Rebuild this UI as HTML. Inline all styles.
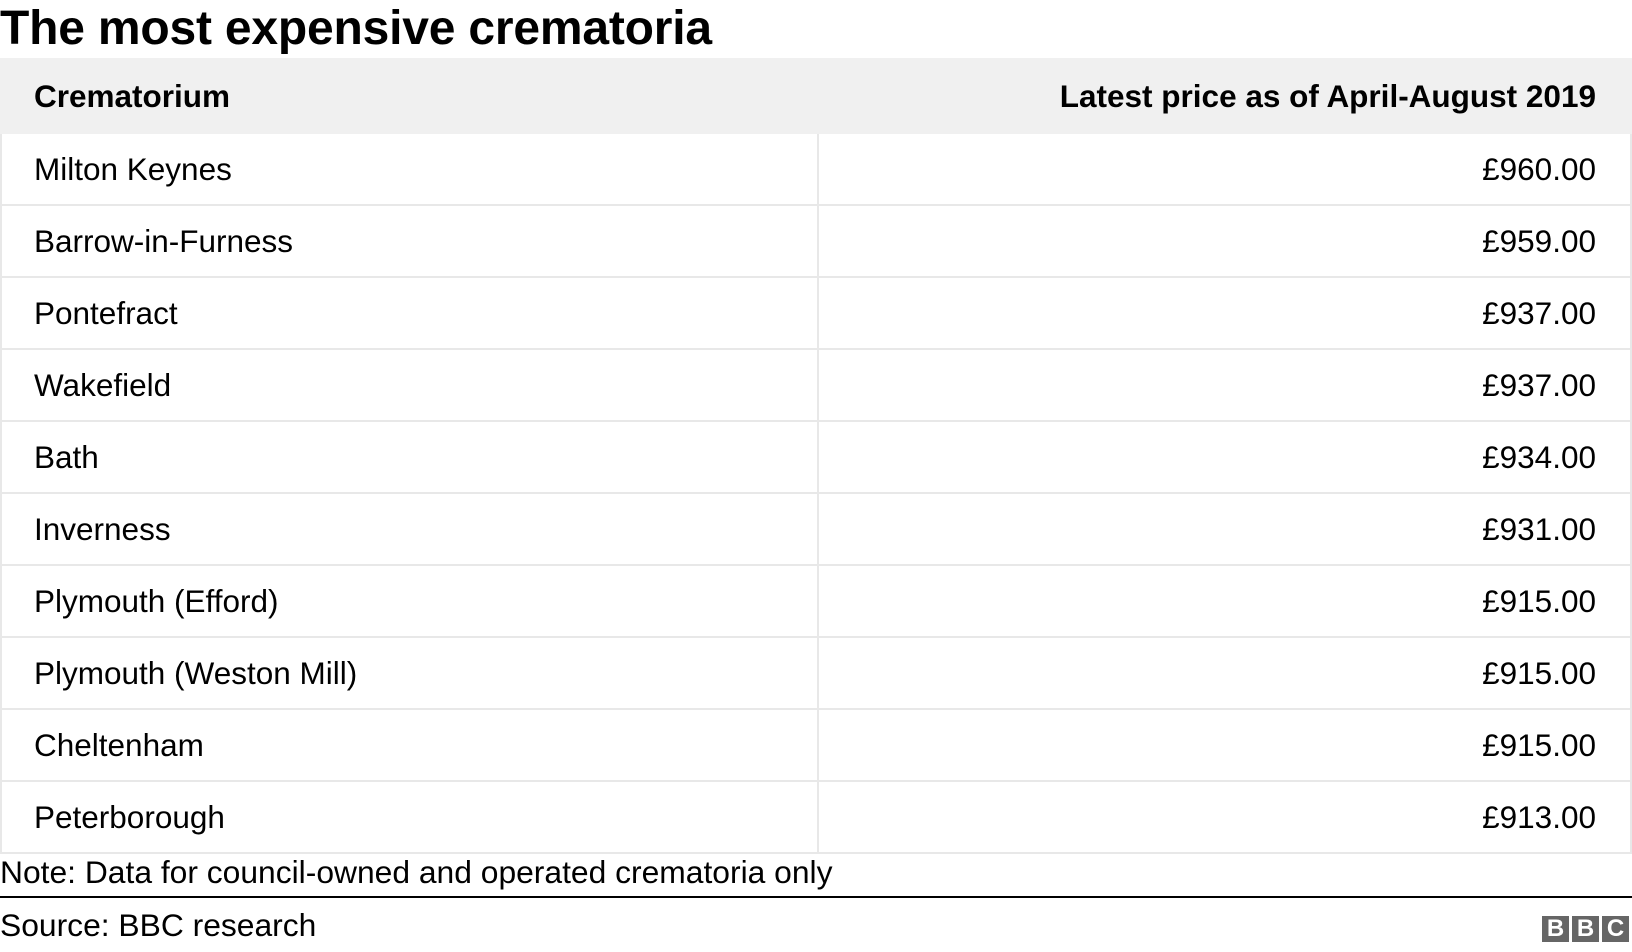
<!DOCTYPE html>
<html><head><meta charset="utf-8"><style>
body{margin:0;width:1632px;height:952px;background:#fff;font-family:"Liberation Sans",Arial,sans-serif;color:#000;position:relative;overflow:hidden}
h1{position:absolute;left:0;top:0;margin:0;font-size:48px;font-weight:bold;line-height:58px;letter-spacing:-0.2px}
table{position:absolute;left:0;top:58px;width:1632px;border-collapse:collapse;table-layout:fixed}
td,th{font-size:31.5px;padding:0 34px 0 32px;border:2px solid #e8e8e8;height:72px;box-sizing:border-box}
th{background:#f0f0f0;font-weight:bold;height:74px;border-color:#f0f0f0}
th.l,td.l{text-align:left;width:817px}
th.r,td.r{text-align:right}
.note{position:absolute;left:0;top:854px;font-size:31.8px;line-height:36px}
.rule{position:absolute;left:0;top:896px;width:1632px;height:2px;background:#000}
.src{position:absolute;left:0;top:907px;font-size:31.8px;line-height:36px}
.bbc{position:absolute;left:1542px;top:916px;display:flex;gap:3px}
.bbc span{width:27px;height:26px;background:#666;color:#fff;font-weight:bold;font-size:24px;line-height:26px;text-align:center}
</style></head><body>
<h1>The most expensive crematoria</h1>
<table>
<thead><tr><th class="l">Crematorium</th><th class="r">Latest price as of April-August 2019</th></tr></thead>
<tbody id="tb"></tbody></table>
<div class="note">Note: Data for council-owned and operated crematoria only</div>
<div class="rule"></div>
<div class="src">Source: BBC research</div>
<div class="bbc"><span>B</span><span>B</span><span>C</span></div>
<script>
const names=["Milton Keynes","Barrow-in-Furness","Pontefract","Wakefield","Bath","Inverness","Plymouth (Efford)","Plymouth (Weston Mill)","Cheltenham","Peterborough"];
const prices=[960,959,937,937,934,931,915,915,915,913];
const tb=document.getElementById('tb');
names.forEach((n,i)=>{
const tr=document.createElement('tr');


const a=document.createElement('td');a.className='l';a.textContent=n;


const b=document.createElement('td');b.className='r';b.textContent='£'+prices[i].toFixed(2);


tr.appendChild(a);tr.appendChild(b);tb.appendChild(tr);
});
</script>
</body></html>
